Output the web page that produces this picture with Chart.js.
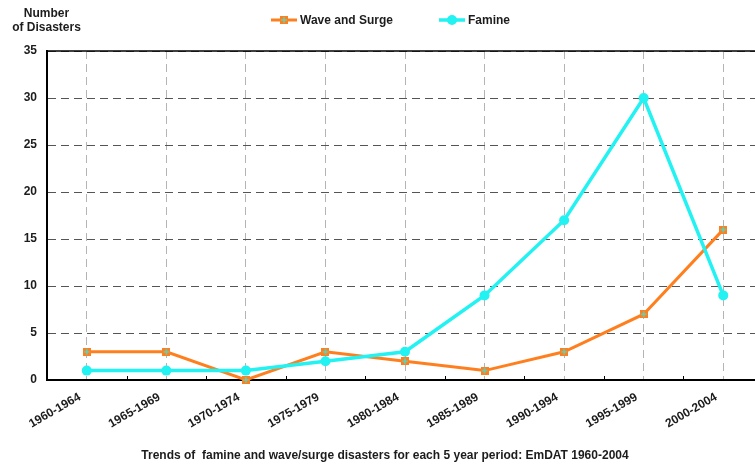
<!DOCTYPE html>
<html lang="en">
<head>
<meta charset="UTF-8">
<title>Famine and wave/surge disasters 1960-2004</title>
<script src="https://cdn.jsdelivr.net/npm/chart.js"></script>
<style>
    html, body { margin: 0; padding: 0; background: #fff; overflow: hidden; }
    #wrap { position: relative; width: 770px; height: 467px; }
</style>
</head>
<body>
<div id="wrap"><canvas id="chart" width="770" height="467"></canvas></div>
<script>
const periods = ['1960-1964', '1965-1969', '1970-1974', '1975-1979', '1980-1984',
                 '1985-1989', '1990-1994', '1995-1999', '2000-2004'];
const waveSurge = [3, 3, 0, 3, 2, 1, 3, 7, 16];
const famine = [1, 1, 1, 2, 3, 9, 17, 30, 9];
const seriesNames = ['Wave and Surge', 'Famine'];
const yMin = 0, yMax = 35, yStep = 5;

const FONT = "'Liberation Sans', Arial, sans-serif";
const TEXT = '#1c1c1c';
const ORANGE = '#FF7F1E';
const CYAN = '#22F2F2';

// little orange square with a cyan cross, like the original marker
function waveMarker() {
    const c = document.createElement('canvas');
    c.width = 8; c.height = 8;
    const g = c.getContext('2d');
    g.fillStyle = ORANGE;
    g.fillRect(0, 0, 8, 8);
    g.fillStyle = CYAN;
    g.fillRect(3.5, 1, 1, 6);
    g.fillRect(1, 3.5, 6, 1);
    return c;
}
const waveImg = waveMarker();

// legend drawn by hand: line + marker + label
const legendSpots = [{ x: 271, text: 300 }, { x: 439, text: 468 }];
const legendPlugin = {
    id: 'handLegend',
    afterDraw(chart) {
        const ctx = chart.ctx;
        const y = 20;
        ctx.save();
        chart.data.datasets.forEach((ds, i) => {
            const spot = legendSpots[i];
            ctx.strokeStyle = ds.borderColor;
            ctx.lineWidth = ds.borderWidth;
            ctx.beginPath();
            ctx.moveTo(spot.x, y);
            ctx.lineTo(spot.x + 26, y);
            ctx.stroke();
            const cx = spot.x + 13;
            if (ds.pointStyle === 'circle') {
                ctx.fillStyle = ds.pointBackgroundColor;
                ctx.beginPath();
                ctx.arc(cx, y, ds.pointRadius, 0, Math.PI * 2);
                ctx.fill();
            } else {
                ctx.drawImage(waveImg, cx - 4, y - 4);
            }
            ctx.fillStyle = TEXT;
            ctx.font = 'bold 12px ' + FONT;
            ctx.textAlign = 'left';
            ctx.textBaseline = 'middle';
            ctx.fillText(ds.label, spot.text, y + 1);
        });
        // y axis caption in the top-left corner
        ctx.textAlign = 'center';
        ctx.fillText('Number', 46.5, 14);
        ctx.fillText('of Disasters', 46.5, 28);
        ctx.restore();
    }
};

// top frame line and the small ticks between categories
const framePlugin = {
    id: 'frame',
    beforeDatasetsDraw(chart) {
        const { ctx, chartArea: a, scales: { x } } = chart;
        ctx.save();
        ctx.strokeStyle = '#000';
        ctx.lineWidth = 1.5;
        ctx.beginPath();
        ctx.moveTo(a.left, a.top);
        ctx.lineTo(a.right, a.top);
        ctx.stroke();
        const half = (x.getPixelForValue(1) - x.getPixelForValue(0)) / 2;
        ctx.lineWidth = 1;
        for (let i = 1; i <= periods.length; i++) {
            const px = Math.round(x.getPixelForValue(i) - half) + 0.5;
            ctx.beginPath();
            ctx.moveTo(px, a.bottom);
            ctx.lineTo(px, a.bottom - 4);
            ctx.stroke();
        }
        ctx.restore();
    }
};

new Chart(document.getElementById('chart'), {
    type: 'line',
    data: {
        labels: periods,
        datasets: [
            {
                label: seriesNames[0],
                data: waveSurge,
                borderColor: ORANGE,
                borderWidth: 3,
                pointStyle: waveImg,
                pointRadius: 4,
                tension: 0,
                clip: false,
                order: 2
            },
            {
                label: seriesNames[1],
                data: famine,
                borderColor: CYAN,
                borderWidth: 3.5,
                pointStyle: 'circle',
                pointRadius: 5,
                pointBackgroundColor: CYAN,
                pointBorderColor: CYAN,
                pointBorderWidth: 0,
                tension: 0,
                clip: false,
                order: 1
            }
        ]
    },
    options: {
        responsive: false,
        animation: false,
        devicePixelRatio: 1,
        layout: { padding: { top: 51, left: 0, right: 0, bottom: 0 } },
        plugins: {
            legend: { display: false },
            tooltip: { enabled: false },
            title: {
                display: true,
                position: 'bottom',
                text: 'Trends of  famine and wave/surge disasters for each 5 year period: EmDAT 1960-2004',
                color: TEXT,
                font: { family: FONT, size: 12, weight: 'bold' },
                padding: { top: 0, bottom: 4.6 }
            }
        },
        scales: {
            x: {
                type: 'category',
                offset: true,
                grid: { color: '#b4b4b4', lineWidth: 1, drawTicks: false },
                border: { color: '#000', width: 2, dash: [8, 5] },
                ticks: {
                    color: TEXT,
                    font: { family: FONT, size: 12, weight: 'bold' },
                    minRotation: 30,
                    maxRotation: 30,
                    padding: 10,
                    labelOffset: -7,
                    autoSkip: false
                },
                afterFit: s => { s.height = 68; }
            },
            y: {
                min: yMin,
                max: yMax,
                grid: { color: '#555', lineWidth: 1, drawTicks: false },
                border: { color: '#000', width: 2, dash: [8, 5] },
                ticks: {
                    stepSize: yStep,
                    color: TEXT,
                    font: { family: FONT, size: 12, weight: 'bold' },
                    padding: 10
                },
                afterFit: s => { s.width = 47; }
            }
        }
    },
    plugins: [framePlugin, legendPlugin]
});
</script>
</body>
</html>
